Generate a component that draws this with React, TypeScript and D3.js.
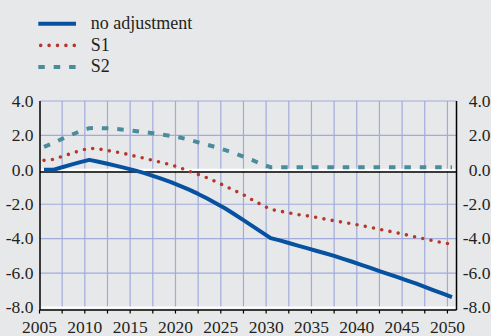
import React from "react";
import * as d3 from "d3";

const years: number[] = d3.range(2005, 2051);

const noAdjustment: number[] = [
  0.0, 0.0, 0.15, 0.3, 0.45, 0.58, 0.47, 0.35, 0.23, 0.1,
  -0.03, -0.18, -0.35, -0.53, -0.72, -0.93, -1.15, -1.4, -1.67, -1.96,
  -2.25, -2.58, -2.92, -3.27, -3.62, -3.97, -4.1, -4.25, -4.4, -4.55,
  -4.7, -4.85, -5.0, -5.17, -5.34, -5.52, -5.7, -5.88, -6.06, -6.24,
  -6.42, -6.6, -6.8, -7.0, -7.2, -7.4,
];

const s1: number[] = [
  0.55, 0.6, 0.78, 0.95, 1.12, 1.25, 1.22, 1.12, 1.03, 0.93,
  0.8, 0.68, 0.55, 0.42, 0.3, 0.12, -0.08, -0.27, -0.47, -0.7,
  -0.95, -1.2, -1.45, -1.75, -2.03, -2.3, -2.4, -2.5, -2.6, -2.67,
  -2.76, -2.86, -2.96, -3.05, -3.14, -3.24, -3.34, -3.45, -3.56, -3.67,
  -3.78, -3.9, -4.02, -4.13, -4.24, -4.33,
];

const s2: number[] = [
  1.33, 1.55, 1.8, 2.03, 2.25, 2.42, 2.43, 2.41, 2.37, 2.32,
  2.26, 2.2, 2.13, 2.05, 1.97, 1.88, 1.75, 1.6, 1.46, 1.31,
  1.14, 0.96, 0.77, 0.56, 0.33, 0.15, 0.15, 0.15, 0.15, 0.15,
  0.15, 0.15, 0.15, 0.15, 0.15, 0.15, 0.15, 0.15, 0.15, 0.15,
  0.15, 0.15, 0.15, 0.15, 0.15, 0.15,
];

const yTicks: number[] = [4, 2, 0, -2, -4, -6, -8];
const xLabelYears: number[] = [2005, 2010, 2015, 2020, 2025, 2030, 2035, 2040, 2045, 2050];
const xGridYears: number[] = d3.range(0, 19).map((k) => 2005 + k * 2.5);
const legendLabels: string[] = ["no adjustment", "S1", "S2"];

const W = 491;
const H = 336;
const BG = "#e7e8ea";
const GRID = "#a1abdb";
const BLUE = "#0752a0";
const RED = "#b8372d";
const TEAL = "#4a8c9c";
const FONT = "'Liberation Serif', 'Times New Roman', serif";

export default function App() {
  const left = 40;
  const right = 456.5;
  const top = 101;
  const bottom = 307.5;
  const axisY = 310;

  const x = d3.scaleLinear().domain([2005, 2051]).range([39.5, right]);
  const y = d3.scaleLinear().domain([-8, 4]).range([bottom, top]);

  const line = d3
    .line<number>()
    .x((_, i) => x(years[i] + 0.5))
    .y((d) => y(d));

  const series = [
    { name: legendLabels[0], values: noAdjustment, color: BLUE, width: 4, dash: undefined as string | undefined, cap: "butt" },
    { name: legendLabels[1], values: s1, color: RED, width: 3.6, dash: "0 8.4", cap: "round" },
    { name: legendLabels[2], values: s2, color: TEAL, width: 4, dash: "6.5 8.9", cap: "butt" },
  ];

  return (
    <svg
      width={W}
      height={H}
      style={{ position: "absolute", left: 0, top: 0, display: "block" }}
      fontFamily={FONT}
    >
      <rect x={0} y={0} width={W} height={H} fill={BG} />

      {/* vertical gridlines */}
      {xGridYears.slice(1).map((yr) => (
        <line key={"vg" + yr} x1={x(yr)} x2={x(yr)} y1={top} y2={bottom} stroke={GRID} strokeWidth={1.2} />
      ))}
      {/* horizontal gridlines */}
      {yTicks.filter((t) => t !== 0 && t !== -8).map((t) => (
        <line key={"hg" + t} x1={left} x2={right} y1={y(t)} y2={y(t)} stroke={GRID} strokeWidth={1.2} />
      ))}
      {/* white highlight lines */}
      <line x1={left} x2={right} y1={y(0)} y2={y(0)} stroke="#ffffff" strokeWidth={2.2} />
      <line x1={left} x2={right} y1={y(-8)} y2={y(-8)} stroke="#ffffff" strokeWidth={2.2} />
      {/* zero axis */}
      <line x1={left} x2={right} y1={y(0) + 2.2} y2={y(0) + 2.2} stroke="#000" strokeWidth={1.5} />

      {/* frame */}
      <line x1={left} x2={left} y1={top} y2={axisY} stroke="#000" strokeWidth={1.5} />
      <line x1={right} x2={right} y1={top} y2={axisY} stroke="#000" strokeWidth={1.5} />
      <line x1={left} x2={right} y1={axisY} y2={axisY} stroke="#000" strokeWidth={1.5} />
      {xGridYears.map((yr) => (
        <line key={"xt" + yr} x1={x(yr)} x2={x(yr)} y1={axisY} y2={axisY + 3.5} stroke="#000" strokeWidth={1.2} />
      ))}

      {/* series */}
      {[series[2], series[1], series[0]].map((s) => (
        <path
          key={s.name}
          d={line(s.values) || ""}
          fill="none"
          stroke={s.color}
          strokeWidth={s.width}
          strokeDasharray={s.dash}
          strokeLinecap={s.cap as any}
          strokeLinejoin="round"
        />
      ))}

      {/* y labels */}
      {yTicks.map((t) => (
        <g key={"yl" + t} fontSize={17.5} fill="#231f20">
          <text x={33.5} y={y(t) + 5.8} textAnchor="end">{t.toFixed(1)}</text>
          <text x={490.5} y={y(t) + 5.8} textAnchor="end">{t.toFixed(1)}</text>
        </g>
      ))}
      {/* x labels */}
      {xLabelYears.map((yr) => (
        <text key={"xl" + yr} x={x(yr)} y={333} textAnchor="middle" fontSize={17.5} fill="#231f20">
          {yr}
        </text>
      ))}

      {/* legend */}
      {series.map((s, i) => {
        const ly = 23.7 + i * 21.7;
        return (
          <g key={"lg" + s.name}>
            <line
              x1={s.cap === "round" ? 40.7 : 38.3}
              x2={76}
              y1={ly}
              y2={ly}
              stroke={s.color}
              strokeWidth={s.width}
              strokeDasharray={s.dash}
              strokeLinecap={s.cap as any}
            />
            <text x={90.7} y={29.3 + i * 21.5} fontSize={18} fill="#231f20">
              {s.name}
            </text>
          </g>
        );
      })}
    </svg>
  );
}
